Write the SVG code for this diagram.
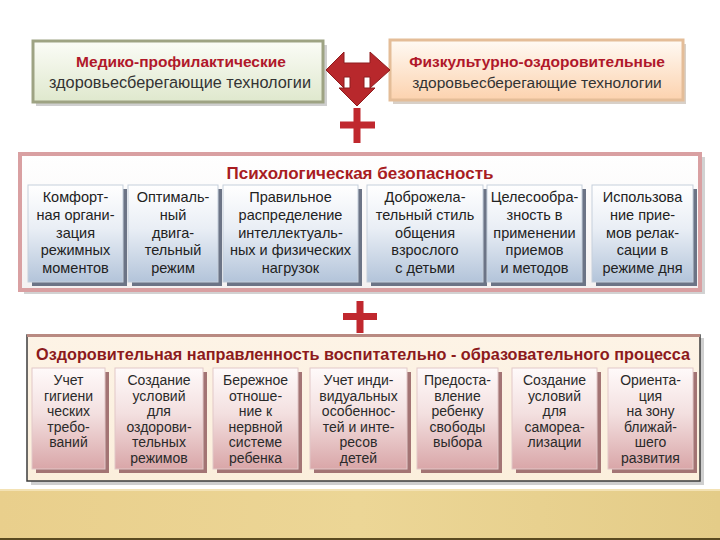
<svg xmlns="http://www.w3.org/2000/svg" width="720" height="540" viewBox="0 0 720 540">
<defs>
<linearGradient id="gGreen" x1="0" y1="0" x2="0" y2="1"><stop offset="0" stop-color="#fbfcf7"/><stop offset="1" stop-color="#dfe8cd"/></linearGradient>
<linearGradient id="gPeach" x1="0" y1="0" x2="0" y2="1"><stop offset="0" stop-color="#fffaf4"/><stop offset="1" stop-color="#fcd2ae"/></linearGradient>
<linearGradient id="gBlue" x1="0" y1="0" x2="0" y2="1"><stop offset="0" stop-color="#ffffff"/><stop offset="0.45" stop-color="#e9eef5"/><stop offset="1" stop-color="#b3c4da"/></linearGradient>
<linearGradient id="gPink" x1="0" y1="0" x2="0" y2="1"><stop offset="0" stop-color="#fffafa"/><stop offset="0.45" stop-color="#f3e0e0"/><stop offset="1" stop-color="#d9a6a8"/></linearGradient>
<linearGradient id="gMid" x1="0" y1="0" x2="0" y2="1"><stop offset="0" stop-color="#ffffff"/><stop offset="1" stop-color="#f4f1f1"/></linearGradient>
<linearGradient id="gBot" x1="0" y1="0" x2="0" y2="1"><stop offset="0" stop-color="#fdf3e6"/><stop offset="1" stop-color="#fbefdc"/></linearGradient>
<linearGradient id="gSand" x1="0" y1="0" x2="1" y2="0"><stop offset="0" stop-color="#e9cf8c"/><stop offset="0.5" stop-color="#ecd696"/><stop offset="1" stop-color="#e4cc88"/></linearGradient>
</defs>
<style>
.t{font-family:"Liberation Sans","DejaVu Sans",sans-serif;text-anchor:middle;}
.hd{font-weight:bold;fill:#b0182a;font-size:15.5px;}
.sub{fill:#333;font-size:15.5px;}
.sub2{fill:#333;font-size:16.3px;}
.mt{font-weight:bold;fill:#a81c22;font-size:17px;}
.bt{font-weight:bold;fill:#8c1a1c;font-size:16px;}
.mb{fill:#222;font-size:14.5px;}
.bb{fill:#2a2a2a;font-size:14px;}
.shB{fill:#6c7486;}
.boxB{fill:url(#gBlue);stroke:#c5cfdb;stroke-width:1;}
.shP{fill:#a37474;}
.boxP{fill:url(#gPink);stroke:#e2c8c8;stroke-width:1;}
.red{fill:#b8282c;stroke:#8e1c1e;stroke-width:1;}
</style>
<rect x="0" y="0" width="720" height="540" fill="#ffffff"/>

<g id="node-mediko">
<rect x="36" y="45" width="291" height="61" fill="#cfcfcf"/>
<rect x="33" y="41" width="290" height="61" fill="url(#gGreen)" stroke="#9ea383" stroke-width="3"/>
<text class="t hd" x="181" y="67">Медико-профилактические</text>
<text class="t sub2" x="180" y="88">здоровьесберегающие технологии</text>
</g>

<g id="node-fizkult">
<rect x="393" y="44" width="293" height="60" fill="#d8d0c8"/>
<rect x="390" y="40" width="293" height="60" fill="url(#gPeach)" stroke="#e4bd98" stroke-width="3"/>
<text class="t hd" x="537" y="67">Физкультурно-оздоровительные</text>
<text class="t sub" x="537" y="88">здоровьесберегающие технологии</text>
</g>

<g id="connectors">
<path class="red" d="M326,70 L344,52 L344,63 L370,63 L370,52 L390,70 L370,88 L370,77 L364,77 L364,88 L375,88 L357,106 L339,88 L350,88 L350,77 L344,77 L344,88 Z"/>
</g>

<g id="plus-1">
<rect x="353.5" y="108" width="7" height="35" fill="#c0282e"/>
<rect x="340" y="121.5" width="35" height="7" fill="#c0282e"/>
</g>

<g id="node-psych">
<rect x="24" y="157" width="681" height="137" fill="#d2d2d2"/>
<rect x="20" y="154" width="680" height="136" fill="url(#gMid)" stroke="#d9a0a2" stroke-width="4"/>
<text class="t mt" x="360" y="179">Психологическая безопасность</text>
</g>

<g id="m1">
<rect class="shB" x="32" y="189" width="95" height="97"/>
<rect class="boxB" x="28" y="185" width="95" height="97"/>
<text class="t mb"><tspan x="75.5" y="202">Комфорт-</tspan><tspan x="75.5" y="219.75">ная органи-</tspan><tspan x="75.5" y="237.5">зация</tspan><tspan x="75.5" y="255.25">режимных</tspan><tspan x="75.5" y="273">моментов</tspan></text>
</g>
<g id="m2">
<rect class="shB" x="132" y="189" width="90" height="97"/>
<rect class="boxB" x="128" y="185" width="90" height="97"/>
<text class="t mb"><tspan x="173" y="202">Оптималь-</tspan><tspan x="173" y="219.75">ный</tspan><tspan x="173" y="237.5">двига-</tspan><tspan x="173" y="255.25">тельный</tspan><tspan x="173" y="273">режим</tspan></text>
</g>
<g id="m3">
<rect class="shB" x="227" y="189" width="135" height="97"/>
<rect class="boxB" x="223" y="185" width="135" height="97"/>
<text class="t mb"><tspan x="290.5" y="202">Правильное</tspan><tspan x="290.5" y="219.75">распределение</tspan><tspan x="290.5" y="237.5">интеллектуаль-</tspan><tspan x="290.5" y="255.25">ных и физических</tspan><tspan x="290.5" y="273">нагрузок</tspan></text>
</g>
<g id="m4">
<rect class="shB" x="371" y="189" width="116" height="97"/>
<rect class="boxB" x="367" y="185" width="116" height="97"/>
<text class="t mb"><tspan x="425" y="202">Доброжела-</tspan><tspan x="425" y="219.75">тельный стиль</tspan><tspan x="425" y="237.5">общения</tspan><tspan x="425" y="255.25">взрослого</tspan><tspan x="425" y="273">с детьми</tspan></text>
</g>
<g id="m5">
<rect class="shB" x="491" y="189" width="95" height="97"/>
<rect class="boxB" x="487" y="185" width="95" height="97"/>
<text class="t mb"><tspan x="534.5" y="202">Целесообра-</tspan><tspan x="534.5" y="219.75">зность  в</tspan><tspan x="534.5" y="237.5">применении</tspan><tspan x="534.5" y="255.25">приемов</tspan><tspan x="534.5" y="273">и методов</tspan></text>
</g>
<g id="m6">
<rect class="shB" x="596" y="189" width="101" height="97"/>
<rect class="boxB" x="592" y="185" width="101" height="97"/>
<text class="t mb"><tspan x="642.5" y="202">Использова</tspan><tspan x="642.5" y="219.75">ние прие-</tspan><tspan x="642.5" y="237.5">мов релак-</tspan><tspan x="642.5" y="255.25">сации в</tspan><tspan x="642.5" y="273">режиме дня</tspan></text>
</g>

<g id="plus-2">
<rect x="356.5" y="301" width="7" height="32" fill="#c0282e"/>
<rect x="343" y="313" width="34" height="7" fill="#c0282e"/>
</g>

<g id="node-ozdor">
<rect x="31" y="338" width="673" height="147" fill="#cfcfcf"/>
<rect x="27" y="335" width="673" height="146" fill="url(#gBot)" stroke="#3c3c3c" stroke-width="1.5"/>
<rect x="27" y="334" width="673" height="3" fill="#b98a82"/>
<text class="t bt" x="363" y="360" textLength="654" lengthAdjust="spacingAndGlyphs">Оздоровительная направленность воспитательно - образовательного процесса</text>
</g>

<g id="b1">
<rect class="shP" x="36" y="372" width="73" height="101"/>
<rect class="boxP" x="32" y="368" width="73" height="101"/>
<text class="t bb"><tspan x="68.5" y="385">Учет</tspan><tspan x="68.5" y="400.5">гигиени</tspan><tspan x="68.5" y="416">ческих</tspan><tspan x="68.5" y="431.5">требо-</tspan><tspan x="68.5" y="447">ваний</tspan></text>
</g>
<g id="b2">
<rect class="shP" x="119" y="372" width="88" height="101"/>
<rect class="boxP" x="115" y="368" width="88" height="101"/>
<text class="t bb"><tspan x="159" y="385">Создание</tspan><tspan x="159" y="400.5">условий</tspan><tspan x="159" y="416">для</tspan><tspan x="159" y="431.5">оздорови-</tspan><tspan x="159" y="447">тельных</tspan><tspan x="159" y="462.5">режимов</tspan></text>
</g>
<g id="b3">
<rect class="shP" x="217" y="372" width="85" height="101"/>
<rect class="boxP" x="213" y="368" width="85" height="101"/>
<text class="t bb"><tspan x="255.5" y="385">Бережное</tspan><tspan x="255.5" y="400.5">отноше-</tspan><tspan x="255.5" y="416">ние к</tspan><tspan x="255.5" y="431.5">нервной</tspan><tspan x="255.5" y="447">системе</tspan><tspan x="255.5" y="462.5">ребенка</tspan></text>
</g>
<g id="b4">
<rect class="shP" x="314" y="372" width="97" height="101"/>
<rect class="boxP" x="310" y="368" width="97" height="101"/>
<text class="t bb"><tspan x="358.5" y="385">Учет инди-</tspan><tspan x="358.5" y="400.5">видуальных</tspan><tspan x="358.5" y="416">особеннос-</tspan><tspan x="358.5" y="431.5">тей и инте-</tspan><tspan x="358.5" y="447">ресов</tspan><tspan x="358.5" y="462.5">детей</tspan></text>
</g>
<g id="b5">
<rect class="shP" x="421" y="372" width="81" height="101"/>
<rect class="boxP" x="417" y="368" width="81" height="101"/>
<text class="t bb"><tspan x="457.5" y="385">Предоста-</tspan><tspan x="457.5" y="400.5">вление</tspan><tspan x="457.5" y="416">ребенку</tspan><tspan x="457.5" y="431.5">свободы</tspan><tspan x="457.5" y="447">выбора</tspan></text>
</g>
<g id="b6">
<rect class="shP" x="516" y="372" width="85" height="101"/>
<rect class="boxP" x="512" y="368" width="85" height="101"/>
<text class="t bb"><tspan x="554.5" y="385">Создание</tspan><tspan x="554.5" y="400.5">условий</tspan><tspan x="554.5" y="416">для</tspan><tspan x="554.5" y="431.5">самореа-</tspan><tspan x="554.5" y="447">лизации</tspan></text>
</g>
<g id="b7">
<rect class="shP" x="612" y="372" width="85" height="101"/>
<rect class="boxP" x="608" y="368" width="85" height="101"/>
<text class="t bb"><tspan x="650.5" y="385">Ориента-</tspan><tspan x="650.5" y="400.5">ция</tspan><tspan x="650.5" y="416">на зону</tspan><tspan x="650.5" y="431.5">ближай-</tspan><tspan x="650.5" y="447">шего</tspan><tspan x="650.5" y="462.5">развития</tspan></text>
</g>

<rect x="0" y="489" width="720" height="51" fill="url(#gSand)"/>
<rect x="0" y="489" width="720" height="2" fill="#f3e2b4"/>
<rect x="0" y="538" width="720" height="2" fill="#5a4a20"/>
</svg>
